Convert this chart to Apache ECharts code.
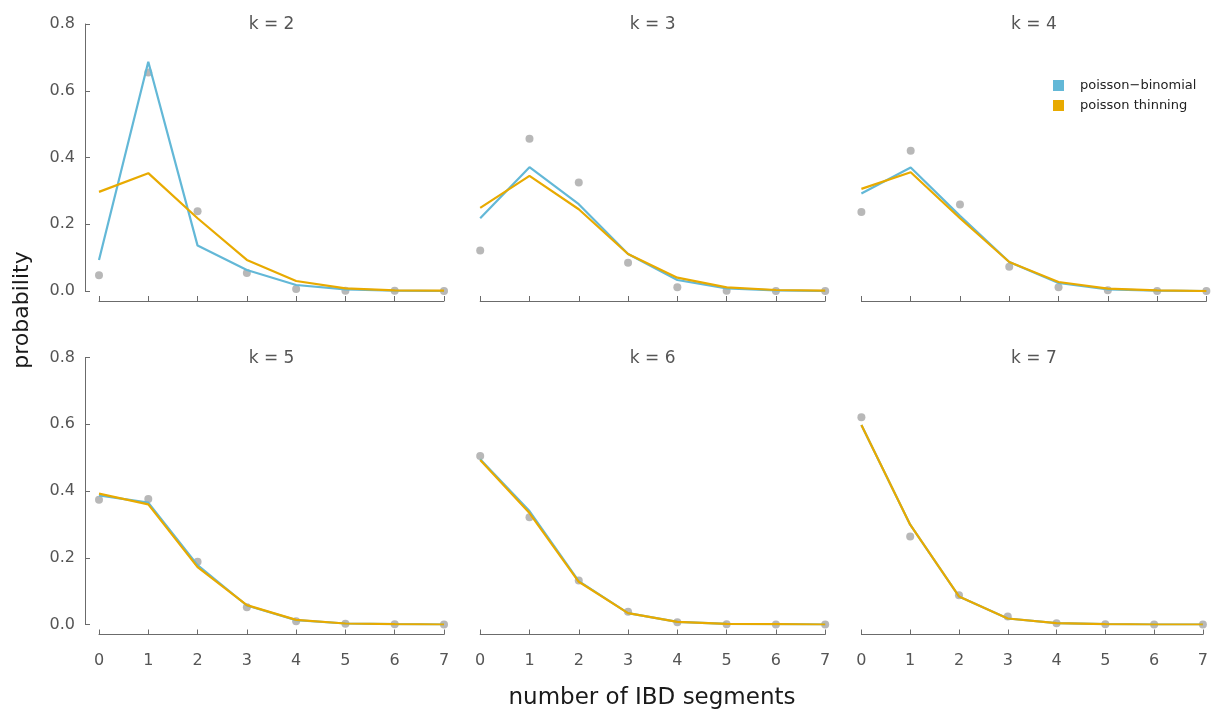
<!DOCTYPE html>
<html>
<head>
<meta charset="utf-8">
<script src="https://cdn.jsdelivr.net/npm/echarts@6/dist/echarts.min.js"></script>
<style>
html,body{margin:0;padding:0;background:#fff;}
#chart{width:1211px;height:713px;}
</style>
</head>
<body>
<div id="chart"></div>
<script>
// ---- data ----
const segments = [0, 1, 2, 3, 4, 5, 6, 7];
const panelTitles = ['k = 2', 'k = 3', 'k = 4', 'k = 5', 'k = 6', 'k = 7'];
const yTicks = [0, 0.2, 0.4, 0.6, 0.8];
const seriesNames = ['poisson\u2212binomial', 'poisson thinning'];

// observed (grey points)
const observed_k2 = [0.047, 0.655, 0.239, 0.054, 0.006, 0.001, 0.001, 0.000];
const observed_k3 = [0.121, 0.456, 0.325, 0.085, 0.011, 0.001, 0.000, 0.000];
const observed_k4 = [0.237, 0.420, 0.259, 0.073, 0.011, 0.002, 0.000, 0.000];
const observed_k5 = [0.374, 0.376, 0.188, 0.052, 0.010, 0.002, 0.001, 0.000];
const observed_k6 = [0.505, 0.321, 0.132, 0.038, 0.007, 0.001, 0.000, 0.000];
const observed_k7 = [0.621, 0.264, 0.088, 0.024, 0.004, 0.001, 0.000, 0.000];

// poisson-binomial (blue line)
const binomial_k2 = [0.093, 0.687, 0.136, 0.063, 0.018, 0.005, 0.001, 0.000];
const binomial_k3 = [0.218, 0.371, 0.260, 0.111, 0.033, 0.008, 0.002, 0.000];
const binomial_k4 = [0.292, 0.370, 0.225, 0.087, 0.024, 0.005, 0.001, 0.000];
const binomial_k5 = [0.387, 0.365, 0.178, 0.057, 0.013, 0.003, 0.001, 0.000];
const binomial_k6 = [0.495, 0.340, 0.130, 0.034, 0.008, 0.002, 0.001, 0.000];
const binomial_k7 = [0.598, 0.299, 0.084, 0.018, 0.004, 0.001, 0.000, 0.000];

// poisson thinning (orange line)
const thinning_k2 = [0.297, 0.353, 0.218, 0.093, 0.030, 0.008, 0.002, 0.001];
const thinning_k3 = [0.249, 0.345, 0.245, 0.111, 0.040, 0.011, 0.003, 0.001];
const thinning_k4 = [0.306, 0.356, 0.218, 0.087, 0.027, 0.007, 0.002, 0.000];
const thinning_k5 = [0.392, 0.360, 0.172, 0.058, 0.014, 0.003, 0.001, 0.000];
const thinning_k6 = [0.493, 0.334, 0.128, 0.034, 0.008, 0.002, 0.001, 0.000];
const thinning_k7 = [0.598, 0.299, 0.084, 0.018, 0.004, 0.001, 0.000, 0.000];

const observedAll = [observed_k2, observed_k3, observed_k4, observed_k5, observed_k6, observed_k7];
const binomialAll = [binomial_k2, binomial_k3, binomial_k4, binomial_k5, binomial_k6, binomial_k7];
const thinningAll = [thinning_k2, thinning_k3, thinning_k4, thinning_k5, thinning_k6, thinning_k7];

// ---- styling / layout ----
const FONT = 'DejaVu Sans';
const BLUE = '#63b8d7';
const ORANGE = '#e8aa00';
const GREY = '#a6a6a6';
const AXIS = '#6b6b6b';
const LABEL = '#555555';

const grids = [], xAxes = [], yAxes = [], series = [], graphics = [];
const colLeft = [99, 480.2, 861.4];
const rowTop = [24, 357.5];
const W = 345, H = 267;

for (let i = 0; i < 6; i++) {
  const col = i % 3, row = Math.floor(i / 3);
  grids.push({ left: colLeft[col], top: rowTop[row], width: W, height: H, containLabel: false });
  xAxes.push({
    type: 'value', gridIndex: i, min: 0, max: 7, interval: 1,
    offset: 10,
    axisLine: { show: true, onZero: false, lineStyle: { color: AXIS, width: 1 } },
    axisTick: { show: true, inside: true, length: 5, lineStyle: { color: AXIS } },
    axisLabel: { show: row === 1, fontFamily: FONT, fontSize: 16, color: LABEL, margin: 18 },
    splitLine: { show: false }
  });
  yAxes.push({
    type: 'value', gridIndex: i, min: 0, max: 0.8, interval: 0.2,
    offset: 14,
    axisLine: { show: col === 0, onZero: false, lineStyle: { color: AXIS, width: 1 } },
    axisTick: { show: col === 0, inside: true, length: 5, lineStyle: { color: AXIS } },
    axisLabel: { show: col === 0, fontFamily: FONT, fontSize: 16, color: LABEL, margin: 10,
      formatter: v => v.toFixed(1) },
    splitLine: { show: false }
  });
  series.push({
    type: 'scatter', name: 'observed', xAxisIndex: i, yAxisIndex: i,
    data: segments.map((s, j) => [s, observedAll[i][j]]),
    symbol: 'circle', symbolSize: 8, itemStyle: { color: GREY }, z: 1
  });
  series.push({
    type: 'line', name: seriesNames[0], xAxisIndex: i, yAxisIndex: i,
    data: segments.map((s, j) => [s, binomialAll[i][j]]),
    showSymbol: false, symbol: 'none', color: BLUE,
    lineStyle: { color: BLUE, width: 2.2 }, itemStyle: { color: BLUE }, z: 2
  });
  series.push({
    type: 'line', name: seriesNames[1], xAxisIndex: i, yAxisIndex: i,
    data: segments.map((s, j) => [s, thinningAll[i][j]]),
    showSymbol: false, symbol: 'none', color: ORANGE,
    lineStyle: { color: ORANGE, width: 2.2 }, itemStyle: { color: ORANGE }, z: 3
  });
  graphics.push({
    type: 'text', x: colLeft[col] + W / 2, y: rowTop[row] + 1,
    style: { text: panelTitles[i], font: '17px "' + FONT + '"', fill: LABEL,
      textAlign: 'center', textVerticalAlign: 'middle' }
  });
}

graphics.push({
  type: 'text', x: 22, y: 310, rotation: Math.PI / 2,
  style: { text: 'probability', font: '22px "' + FONT + '"', fill: '#1a1a1a',
    textAlign: 'center', textVerticalAlign: 'middle' }
});
graphics.push({
  type: 'text', x: 652, y: 698,
  style: { text: 'number of IBD segments', font: '23px "' + FONT + '"', fill: '#1a1a1a',
    textAlign: 'center', textVerticalAlign: 'middle' }
});

const chart = echarts.init(document.getElementById('chart'), null, { renderer: 'canvas' });
chart.setOption({
  animation: false,
  backgroundColor: '#ffffff',
  grid: grids,
  xAxis: xAxes,
  yAxis: yAxes,
  series: series,
  graphic: graphics,
  legend: {
    data: seriesNames,
    orient: 'vertical',
    left: 1048, top: 74,
    icon: 'rect', itemWidth: 11, itemHeight: 11, itemGap: 7,
    textStyle: { fontFamily: FONT, fontSize: 13, color: '#222', padding: [0, 0, 0, 11] }
  }
});
</script>
</body>
</html>
